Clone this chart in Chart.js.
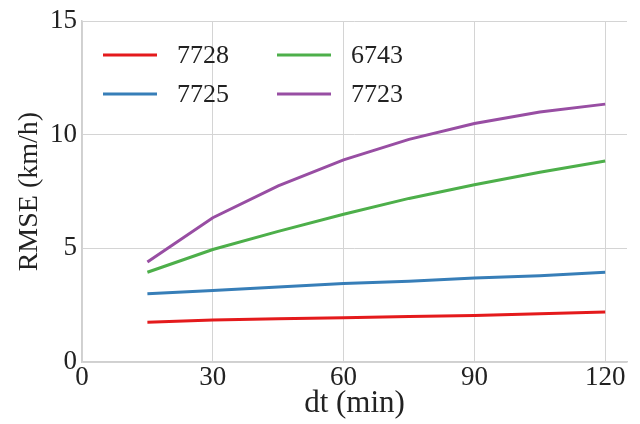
<!DOCTYPE html>
<html>
<head>
<meta charset="utf-8">
<script src="https://cdn.jsdelivr.net/npm/chart.js@4"></script>
<style>
  html, body { margin: 0; padding: 0; background: #fff; }
  #wrap { width: 640px; height: 424px; }
</style>
</head>
<body>
<div id="wrap"><canvas id="c" width="640" height="424"></canvas></div>
<script>
// --- data ---
const dt = [15, 30, 45, 60, 75, 90, 105, 120];
const s7728 = [1.75, 1.85, 1.9, 1.95, 2.0, 2.05, 2.12, 2.2];
const s7725 = [3.0, 3.15, 3.3, 3.45, 3.55, 3.7, 3.8, 3.95];
const s6743 = [3.95, 4.95, 5.75, 6.5, 7.2, 7.8, 8.35, 8.85];
const s7723 = [4.4, 6.35, 7.75, 8.9, 9.8, 10.5, 11.0, 11.35];
const xTicks = [0, 30, 60, 90, 120];
const yTicks = [0, 5, 10, 15];

const FONT = "'Times New Roman', 'Liberation Serif', Times, serif";

const series = [
  { label: "7728", data: s7728, color: "#e41a1c" },
  { label: "7725", data: s7725, color: "#377eb8" },
  { label: "6743", data: s6743, color: "#4daf4a" },
  { label: "7723", data: s7723, color: "#984ea3" },
];

// legend in two columns inside the plot (top-left)
const legendPlugin = {
  id: "twoColLegend",
  afterDraw(chart) {
    const ctx = chart.ctx;
    const cols = [103, 277];
    const rows = [55, 94];
    ctx.save();
    ctx.font = "26px " + FONT;
    ctx.textBaseline = "middle";
    chart.data.datasets.forEach((ds, i) => {
      const x = cols[Math.floor(i / 2)];
      const y = rows[i % 2];
      ctx.strokeStyle = ds.borderColor;
      ctx.lineWidth = 3;
      ctx.beginPath();
      ctx.moveTo(x, y);
      ctx.lineTo(x + 54, y);
      ctx.stroke();
      ctx.fillStyle = "#222";
      ctx.fillText(ds.label, x + 74, y + 1);
    });
    ctx.restore();
  },
};

new Chart(document.getElementById("c").getContext("2d"), {
  type: "line",
  data: {
    datasets: series.map((s) => ({
      label: s.label,
      data: dt.map((x, i) => ({ x: x, y: s.data[i] })),
      borderColor: s.color,
      backgroundColor: s.color,
      borderWidth: 3,
      pointRadius: 0,
      tension: 0,
    })),
  },
  options: {
    responsive: false,
    animation: false,
    layout: { padding: { top: 19, right: 13, left: 0, bottom: 0 } },
    plugins: { legend: { display: false }, tooltip: { enabled: false } },
    scales: {
      x: {
        type: "linear",
        min: 0,
        max: 125,
        afterBuildTicks: (axis) => { axis.ticks = xTicks.map((v) => ({ value: v })); },
        afterFit: (axis) => { axis.height = 62; },
        grid: { color: "#d4d4d4", lineWidth: 1, drawTicks: false },
        border: { color: "#d0d0d0", width: 1.5 },
        ticks: { color: "#222", font: { family: FONT, size: 27 }, padding: 0, maxRotation: 0 },
        title: { display: true, text: "dt (min)", color: "#222", font: { family: FONT, size: 31 }, padding: { top: -4, bottom: 2 } },
      },
      y: {
        min: 0,
        max: 15,
        afterBuildTicks: (axis) => { axis.ticks = yTicks.map((v) => ({ value: v })); },
        afterFit: (axis) => { axis.width = 82; },
        grid: { color: "#d4d4d4", lineWidth: 1, drawTicks: false },
        border: { color: "#d0d0d0", width: 1.5 },
        ticks: { color: "#222", font: { family: FONT, size: 27 }, padding: 5 },
        title: { display: true, text: "RMSE (km/h)", color: "#222", font: { family: FONT, size: 28 }, padding: { top: 13, bottom: 0 } },
      },
    },
  },
  plugins: [legendPlugin],
});
</script>
</body>
</html>
